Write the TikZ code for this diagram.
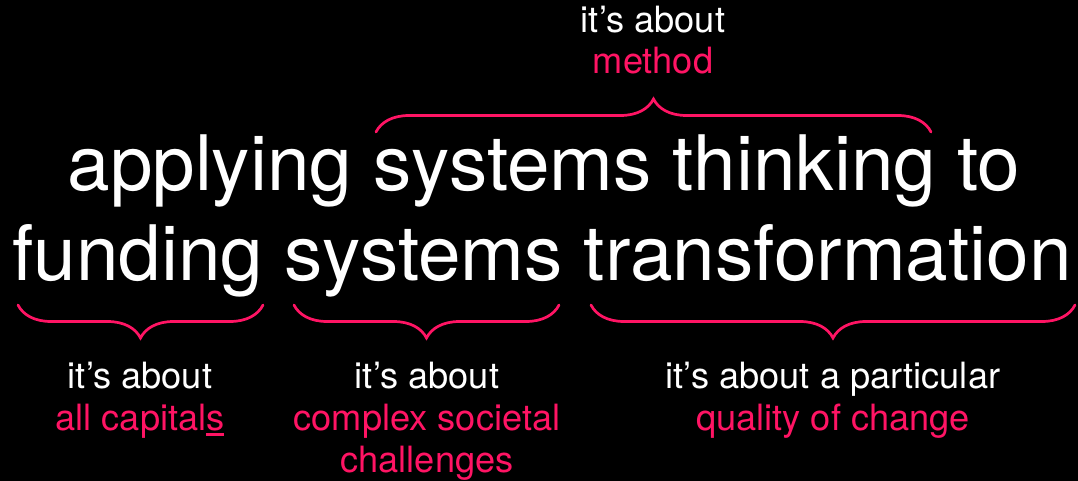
\documentclass[tikz,border=0pt]{standalone}
\usepackage{fontspec}
\setmainfont{TeX Gyre Heros}
\usetikzlibrary{decorations.pathreplacing}

\definecolor{hotpink}{HTML}{FF1464}

% underline one letter with a thick bar
\newcommand{\ulmark}[1]{\setbox0\hbox{#1}\rlap{\rule[-5.5pt]{\wd0}{2.6pt}}#1}

\tikzset{
    bigline/.style={anchor=base, text=white, inner sep=0pt,
        font=\fontsize{76.5}{89}\selectfont},
    smallline/.style={anchor=base, text=white, inner sep=0pt,
        font=\fontsize{36.2}{42}\selectfont},
    pinkline/.style={smallline, text=hotpink},
    bracket/.style={draw=hotpink, line width=2.7pt, line cap=round,
        decorate, decoration={brace, amplitude=33pt}}
}

\begin{document}
\begin{tikzpicture}[x=1pt, y=-1pt]
    % Background
    \fill[black] (0,0) rectangle (1078,481);

    % Main sentence
    \node[bigline] (line1) at (544,190) {applying systems thinking to};
    \node[bigline] (line2) at (542,280) {funding systems transformation};

    % Brace ends
    \coordinate (methodL) at (376,132);
    \coordinate (methodR) at (931,132);
    \coordinate (fundL) at (18,305);
    \coordinate (fundR) at (263,305);
    \coordinate (sysL) at (294,305);
    \coordinate (sysR) at (559,305);
    \coordinate (transL) at (591,305);
    \coordinate (transR) at (1075,305);

    % Braces
    \draw[bracket] (methodL) -- (methodR);
    \draw[bracket] (fundR) -- (fundL);
    \draw[bracket] (sysR) -- (sysL);
    \draw[bracket] (transR) -- (transL);

    % Top note
    \node[smallline] (methodA) at (653,33) {it's about};
    \node[pinkline] (methodB) at (653,74) {method};

    % Bottom notes
    \node[smallline] (fundA) at (140,388) {it's about};
    \node[pinkline] (fundB) at (140,430) {all capital\ulmark{s}};

    \node[smallline] (sysA) at (427,388) {it's about};
    \node[pinkline] (sysB) at (427,430) {complex societal};
    \node[pinkline] (sysC) at (427,472) {challenges};

    \node[smallline] (transA) at (833,388) {it's about a particular};
    \node[pinkline] (transB) at (833,430) {quality of change};
\end{tikzpicture}
\end{document}
